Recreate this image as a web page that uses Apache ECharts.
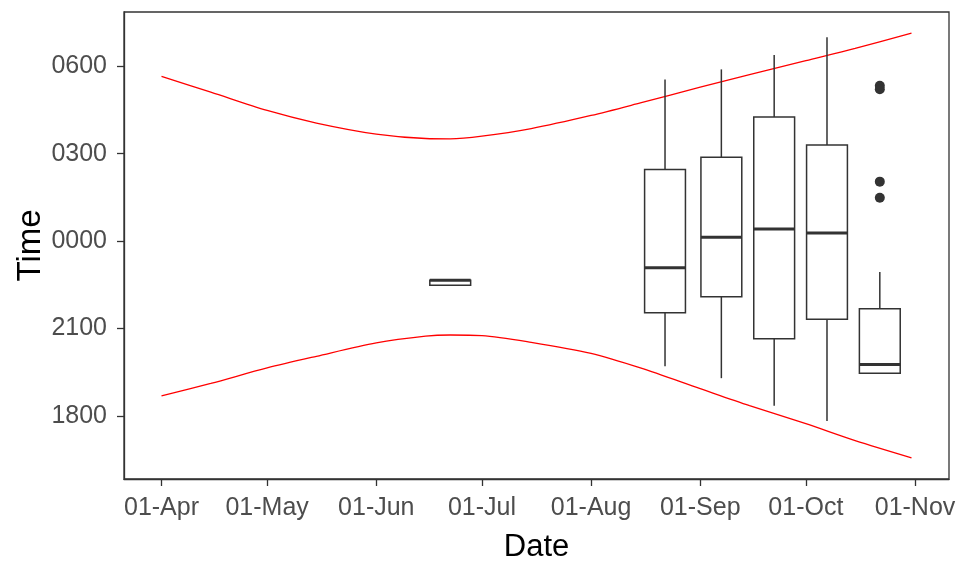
<!DOCTYPE html>
<html>
<head>
<meta charset="utf-8">
<script src="https://cdn.jsdelivr.net/npm/echarts@6/dist/echarts.min.js"></script>
<style>
  html, body { margin: 0; padding: 0; background: #ffffff; }
  #chart { width: 958px; height: 562px; }
</style>
</head>
<body>
<div id="chart"></div>
<script>
// Sunrise / sunset curves (hours relative to midnight; negative = evening before)
const lineDates = ['2019-04-01', '2019-04-15', '2019-05-01', '2019-05-15', '2019-06-01', '2019-06-15',
  '2019-06-22', '2019-07-01', '2019-07-15', '2019-08-01', '2019-08-15', '2019-09-01',
  '2019-09-15', '2019-10-01', '2019-10-15', '2019-10-31'];
const sunriseHours = [5.65, 5.11, 4.48, 4.05, 3.67, 3.52, 3.51, 3.60, 3.86, 4.31, 4.74, 5.28, 5.71, 6.19, 6.61, 7.13];
const sunsetHours = [-5.31, -4.88, -4.35, -3.95, -3.49, -3.26, -3.22, -3.24, -3.47, -3.85, -4.35, -5.06, -5.64, -6.26, -6.84, -7.43];

// Half-monthly activity times (box statistics, hours relative to midnight)
const boxDates = ['2019-06-22', '2019-08-22', '2019-09-07', '2019-09-22', '2019-10-07', '2019-10-22'];
const boxLow    = [-1.51, -4.29, -4.70, -5.65, -6.17, -4.53];
const boxQ1     = [-1.51, -2.46, -1.91, -3.35, -2.68, -4.53];
const boxMedian = [-1.34, -0.91,  0.13,  0.42,  0.28, -4.23];
const boxQ3     = [-1.34,  2.46,  2.88,  4.26,  3.30, -2.32];
const boxHigh   = [-1.34,  5.54,  5.89,  6.38,  6.99, -1.06];

const outlierDates = ['2019-10-22', '2019-10-22', '2019-10-22', '2019-10-22'];
const outlierHours = [5.33, 5.21, 2.04, 1.49];

// Axis ticks
const xTickDates = ['2019-04-01', '2019-05-01', '2019-06-01', '2019-07-01', '2019-08-01', '2019-09-01', '2019-10-01', '2019-11-01'];
const xTickLabels = ['01-Apr', '01-May', '01-Jun', '01-Jul', '01-Aug', '01-Sep', '01-Oct', '01-Nov'];
const yTickHours = [-6, -3, 0, 3, 6];
const yTickLabels = ['1800', '2100', '0000', '0300', '0600'];

const DAY = 86400000;
const BOX_DAYS = 11.6;
const ms = s => Date.parse(s + 'T00:00:00Z');

const sunriseData = lineDates.map((d, i) => [ms(d), sunriseHours[i]]);
const sunsetData = lineDates.map((d, i) => [ms(d), sunsetHours[i]]);
const boxData = boxDates.map((d, i) => [ms(d), boxLow[i], boxQ1[i], boxMedian[i], boxQ3[i], boxHigh[i]]);
const outlierData = outlierDates.map((d, i) => [ms(d), outlierHours[i]]);
const xTickValues = xTickDates.map(ms);

// 5% padding around the data range on both axes
const xs = lineDates.map(ms);
const xMin0 = Math.min(...xs), xMax0 = Math.max(...xs);
const xPad = (xMax0 - xMin0) * 0.05;
const allY = sunriseHours.concat(sunsetHours, boxLow, boxHigh, outlierHours);
const yMin0 = Math.min(...allY), yMax0 = Math.max(...allY);
const yPad = (yMax0 - yMin0) * 0.05;

const INK = '#333333';

function renderBox(params, api) {
  const x = api.value(0);
  const half = api.size([BOX_DAYS * DAY, 0])[0] / 2;
  const pLo = api.coord([x, api.value(1)]);
  const pQ1 = api.coord([x, api.value(2)]);
  const pMed = api.coord([x, api.value(3)]);
  const pQ3 = api.coord([x, api.value(4)]);
  const pHi = api.coord([x, api.value(5)]);
  const cx = pMed[0];
  const thin = { stroke: INK, lineWidth: 1.5, fill: null };
  return {
    type: 'group',
    children: [
      { type: 'line', shape: { x1: cx, y1: pQ3[1], x2: cx, y2: pHi[1] }, style: thin },
      { type: 'line', shape: { x1: cx, y1: pQ1[1], x2: cx, y2: pLo[1] }, style: thin },
      { type: 'rect', shape: { x: cx - half, y: pQ3[1], width: half * 2, height: pQ1[1] - pQ3[1] },
        style: { stroke: INK, lineWidth: 1.5, fill: '#ffffff' } },
      { type: 'line', shape: { x1: cx - half, y1: pMed[1], x2: cx + half, y2: pMed[1] },
        style: { stroke: INK, lineWidth: 3 } }
    ]
  };
}

const chart = echarts.init(document.getElementById('chart'), null, { renderer: 'canvas' });
chart.setOption({
  animation: false,
  backgroundColor: '#ffffff',
  textStyle: { fontFamily: 'Liberation Sans, Arial, sans-serif' },
  grid: {
    left: 124, right: 9, top: 12, bottom: 83,
    outerBoundsMode: 'none', containLabel: false,
    show: true, borderColor: INK, borderWidth: 1.3, backgroundColor: 'transparent'
  },
  xAxis: {
    type: 'value',
    min: xMin0 - xPad,
    max: xMax0 + xPad,
    name: 'Date',
    nameLocation: 'middle',
    nameGap: 53,
    nameMoveOverlap: false,
    nameTextStyle: { fontSize: 31, color: '#000000' },
    axisLine: { show: true, onZero: false, lineStyle: { color: INK, width: 1.3 } },
    splitLine: { show: false },
    axisTick: { show: true, length: 7, lineStyle: { color: INK, width: 1.3 }, customValues: xTickValues },
    axisLabel: {
      fontSize: 25, color: '#4d4d4d', margin: 17,
      customValues: xTickValues,
      formatter: v => xTickLabels[xTickValues.indexOf(v)] || ''
    }
  },
  yAxis: {
    type: 'value',
    min: yMin0 - yPad,
    max: yMax0 + yPad,
    name: 'Time',
    nameLocation: 'middle',
    nameGap: 77,
    nameMoveOverlap: false,
    nameTextStyle: { fontSize: 33, color: '#000000' },
    axisLine: { show: true, onZero: false, lineStyle: { color: INK, width: 1.3 } },
    splitLine: { show: false },
    axisTick: { show: true, length: 7, lineStyle: { color: INK, width: 1.3 }, customValues: yTickHours },
    axisLabel: {
      fontSize: 25, color: '#4d4d4d', margin: 17,
      customValues: yTickHours,
      formatter: v => yTickLabels[yTickHours.indexOf(v)] || ''
    }
  },
  series: [
    {
      name: 'Sunrise', type: 'line', data: sunriseData, smooth: 0.3, showSymbol: false,
      lineStyle: { color: '#ff0000', width: 1.3 }, z: 2
    },
    {
      name: 'Sunset', type: 'line', data: sunsetData, smooth: 0.3, showSymbol: false,
      lineStyle: { color: '#ff0000', width: 1.3 }, z: 2
    },
    {
      name: 'Activity', type: 'custom', renderItem: renderBox, data: boxData,
      encode: { x: 0, y: [1, 2, 3, 4, 5] }, z: 3
    },
    {
      name: 'Outliers', type: 'scatter', data: outlierData, symbol: 'circle', symbolSize: 10,
      itemStyle: { color: INK, opacity: 1 }, z: 4
    }
  ]
});
</script>
</body>
</html>
